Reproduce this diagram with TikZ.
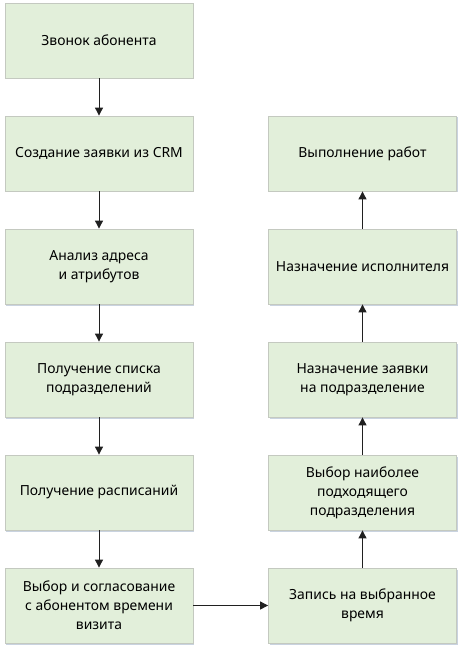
\documentclass[tikz,border=0pt]{standalone}
\usepackage{fontspec}
\setmainfont{Noto Sans}
\usetikzlibrary{arrows.meta,shadows}
\definecolor{boxfill}{HTML}{E2EFDA}
\definecolor{boxdraw}{HTML}{C4C9C0}
\definecolor{shade}{HTML}{C9D3E0}
\definecolor{linec}{HTML}{202020}
\tikzset{
  flowbox/.style={draw=boxdraw, line width=0.8pt, fill=boxfill, minimum width=188pt, minimum height=75pt,
    align=center, inner sep=2pt, font=\fontsize{13.9pt}{19pt}\selectfont,
    drop shadow={shadow xshift=1pt, shadow yshift=-1.5pt, fill=shade, opacity=1}},
  flowarrow/.style={draw=linec, line width=0.9pt, -{Triangle[length=8pt,width=8pt]}}
}
\begin{document}
\begin{tikzpicture}[x=1pt,y=-1pt]
\useasboundingbox (0,0) rectangle (463,652);
\node[flowbox] (n1) at (99,40.5) {Звонок абонента};
\node[flowbox] (n2) at (99,153.5) {Создание заявки из CRM};
\node[flowbox] (n3) at (99,266.5) {Анализ адреса\\и атрибутов};
\node[flowbox] (n4) at (99,379.5) {Получение списка\\подразделений};
\node[flowbox] (n5) at (99,492.5) {Получение расписаний};
\node[flowbox] (n6) at (99,605.5) {Выбор и согласование\\с абонентом времени\\визита};
\node[flowbox] (m1) at (362.5,605.5) {Запись на выбранное\\время};
\node[flowbox] (m2) at (362.5,492.5) {Выбор наиболее\\подходящего\\подразделения};
\node[flowbox] (m3) at (362.5,379.5) {Назначение заявки\\на подразделение};
\node[flowbox] (m4) at (362.5,266.5) {Назначение исполнителя};
\node[flowbox] (m5) at (362.5,153.5) {Выполнение работ};
\draw[flowarrow] (n1) -- (n2);
\draw[flowarrow] (n2) -- (n3);
\draw[flowarrow] (n3) -- (n4);
\draw[flowarrow] (n4) -- (n5);
\draw[flowarrow] (n5) -- (n6);
\draw[flowarrow] (n6) -- (m1);
\draw[flowarrow] (m1) -- (m2);
\draw[flowarrow] (m2) -- (m3);
\draw[flowarrow] (m3) -- (m4);
\draw[flowarrow] (m4) -- (m5);
\end{tikzpicture}
\end{document}
